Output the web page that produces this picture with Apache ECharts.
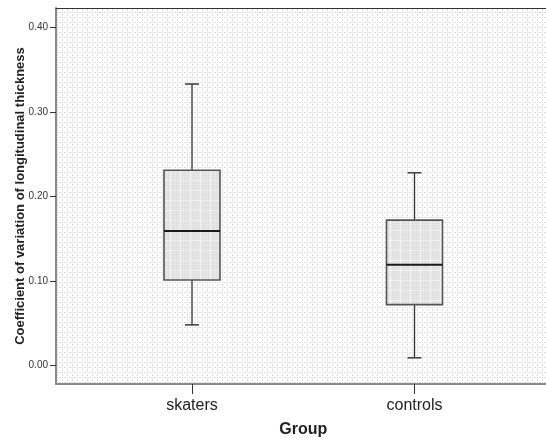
<!DOCTYPE html>
<html>
<head>
<meta charset="utf-8">
<script src="https://cdn.jsdelivr.net/npm/echarts@6/dist/echarts.min.js"></script>
<style>
html,body{margin:0;padding:0;background:#fff;}
#chart{width:546px;height:438px;}
</style>
</head>
<body>
<div id="chart"></div>
<script>
// ---- data ----
var categories = ['skaters', 'controls'];
var whiskerLow = [0.048, 0.009];
var q1 = [0.101, 0.072];
var median = [0.159, 0.119];
var q3 = [0.231, 0.172];
var whiskerHigh = [0.333, 0.228];
var yTicks = [0.00, 0.10, 0.20, 0.30, 0.40];

// ---- patterns ----
function makeBgPattern() {
  var c = document.createElement('canvas');
  c.width = 5; c.height = 5;
  var g = c.getContext('2d');
  g.fillStyle = '#ffffff'; g.fillRect(0, 0, 5, 5);
  g.fillStyle = '#dcdcdc';
  g.fillRect(2, 0, 1, 5); 
  g.fillStyle = '#ffffff';
  g.fillRect(2, 1, 1, 1); g.fillRect(2, 3, 1, 1);
  g.fillStyle = '#dcdcdc';
  g.fillRect(0, 2, 5, 1);
  g.fillStyle = '#ffffff';
  g.fillRect(1, 2, 1, 1); g.fillRect(3, 2, 1, 1);
  return c;
}
function makeBoxPattern() {
  var c = document.createElement('canvas');
  c.width = 10; c.height = 10;
  var g = c.getContext('2d');
  g.fillStyle = '#e6e6e6'; g.fillRect(0, 0, 10, 10);
  g.fillStyle = '#dadada';
  for (var i = 0; i < 10; i += 2) for (var j = 1; j < 10; j += 2) g.fillRect(i, j, 1, 1);
  g.fillStyle = '#f3f3f3';
  g.fillRect(0, 0, 10, 1); g.fillRect(0, 0, 1, 10);
  return c;
}
var bgPattern = { image: makeBgPattern(), repeat: 'repeat' };
var boxPattern = { image: makeBoxPattern(), repeat: 'repeat' };

var boxData = categories.map(function (c, i) {
  return [i, whiskerLow[i], q1[i], median[i], q3[i], whiskerHigh[i]];
});

var yMin = -0.022, yMax = 0.423;

var chart = echarts.init(document.getElementById('chart'));
chart.setOption({
  animation: false,
  backgroundColor: '#ffffff',
  grid: [
    { left: 56, right: 0, top: 8, bottom: 54, show: true, backgroundColor: bgPattern, borderWidth: 0,
      containLabel: false, outerBoundsMode: 'none' },
    { left: 80.75, right: 20.25, top: 8, bottom: 54, containLabel: false, outerBoundsMode: 'none' }
  ],
  xAxis: [
    { type: 'value', gridIndex: 0, min: 0, max: 1, position: 'bottom',
      axisLine: { show: true, onZero: false, lineStyle: { color: '#8a8a8a', width: 2 } },
      axisTick: { show: false }, axisLabel: { show: false }, splitLine: { show: false } },
    { type: 'value', gridIndex: 0, min: 0, max: 1, position: 'top',
      axisLine: { show: true, onZero: false, lineStyle: { color: '#333', width: 1 } },
      axisTick: { show: false }, axisLabel: { show: false }, splitLine: { show: false } },
    { type: 'category', gridIndex: 1, data: categories, position: 'bottom',
      axisLine: { show: false, onZero: false },
      axisTick: { show: true, alignWithLabel: true, length: 10, lineStyle: { color: '#333', width: 1 } },
      axisLabel: { color: '#222', fontSize: 16, fontFamily: 'Liberation Sans', margin: 14 },
      name: 'Group', nameLocation: 'middle', nameGap: 46, nameMoveOverlap: false,
      nameTextStyle: { fontSize: 16, fontWeight: 'bold', color: '#222', fontFamily: 'Liberation Sans', verticalAlign: 'middle' } }
  ],
  yAxis: [
    { type: 'value', gridIndex: 0, min: yMin, max: yMax,
      axisLine: { show: true, onZero: false, lineStyle: { color: '#8a8a8a', width: 2 } },
      axisTick: { show: true, length: 6, customValues: yTicks, lineStyle: { color: '#333', width: 1 } },
      axisLabel: { customValues: yTicks, margin: 8, color: '#333', fontSize: 10, fontFamily: 'Liberation Sans',
        formatter: function (v) { return v.toFixed(2); } },
      splitLine: { show: false },
      name: 'Coefficient of variation of longitudinal thickness', nameLocation: 'middle', nameGap: 36,
      nameMoveOverlap: false,
      nameTextStyle: { fontSize: 13, fontWeight: 'bold', color: '#222', fontFamily: 'Liberation Sans', verticalAlign: 'middle' } },
    { type: 'value', gridIndex: 1, min: yMin, max: yMax, show: false }
  ],
  series: [{
    type: 'custom',
    xAxisIndex: 2, yAxisIndex: 1,
    data: boxData,
    renderItem: function (params, api) {
      var x = api.value(0);
      var pLow = api.coord([x, api.value(1)]);
      var pQ1 = api.coord([x, api.value(2)]);
      var pMed = api.coord([x, api.value(3)]);
      var pQ3 = api.coord([x, api.value(4)]);
      var pHigh = api.coord([x, api.value(5)]);
      var cx = pLow[0];
      var hw = 28, cw = 7;
      var wStyle = { stroke: '#333', lineWidth: 1.3 };
      return {
        type: 'group',
        children: [
          { type: 'line', shape: { x1: cx, y1: pHigh[1], x2: cx, y2: pQ3[1] }, style: wStyle },
          { type: 'line', shape: { x1: cx, y1: pQ1[1], x2: cx, y2: pLow[1] }, style: wStyle },
          { type: 'line', shape: { x1: cx - cw, y1: pHigh[1], x2: cx + cw, y2: pHigh[1] }, style: { stroke: '#444', lineWidth: 1.6 } },
          { type: 'line', shape: { x1: cx - cw, y1: pLow[1], x2: cx + cw, y2: pLow[1] }, style: { stroke: '#444', lineWidth: 1.6 } },
          { type: 'rect', shape: { x: cx - hw, y: pQ3[1], width: 2 * hw, height: pQ1[1] - pQ3[1] },
            style: { fill: boxPattern, stroke: '#555', lineWidth: 1.6 } },
          { type: 'line', shape: { x1: cx - hw, y1: pMed[1], x2: cx + hw, y2: pMed[1] }, style: { stroke: '#1a1a1a', lineWidth: 2 } }
        ]
      };
    }
  }]
});
</script>
</body>
</html>
